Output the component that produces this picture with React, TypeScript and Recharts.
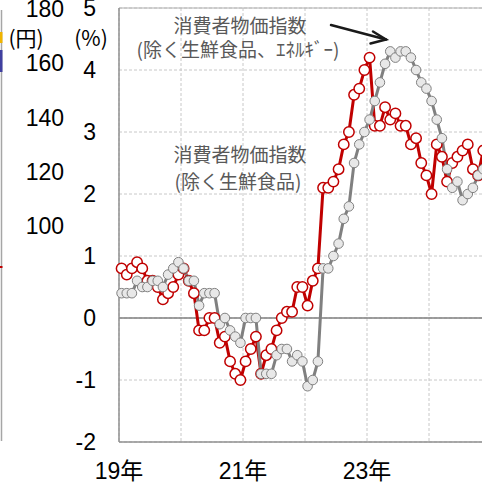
import { CartesianGrid, Line, LineChart, ReferenceLine, XAxis, YAxis } from "recharts";

// Monthly, Jan 2019 – Nov 2024, y/y % change
const months = [
  "19/01", "19/02", "19/03", "19/04", "19/05", "19/06", "19/07", "19/08", "19/09", "19/10", "19/11", "19/12",
  "20/01", "20/02", "20/03", "20/04", "20/05", "20/06", "20/07", "20/08", "20/09", "20/10", "20/11", "20/12",
  "21/01", "21/02", "21/03", "21/04", "21/05", "21/06", "21/07", "21/08", "21/09", "21/10", "21/11", "21/12",
  "22/01", "22/02", "22/03", "22/04", "22/05", "22/06", "22/07", "22/08", "22/09", "22/10", "22/11", "22/12",
  "23/01", "23/02", "23/03", "23/04", "23/05", "23/06", "23/07", "23/08", "23/09", "23/10", "23/11", "23/12",
  "24/01", "24/02", "24/03", "24/04", "24/05", "24/06", "24/07", "24/08", "24/09", "24/10", "24/11",
];

// 消費者物価指数（除く生鮮食品）
const exFresh = [
  0.8, 0.7, 0.8, 0.9, 0.8, 0.6, 0.6, 0.5, 0.3, 0.4, 0.5, 0.7,
  0.8, 0.6, 0.4, -0.2, -0.2, 0.0, 0.0, -0.4, -0.3, -0.7, -0.9, -1.0,
  -0.7, -0.5, -0.3, -0.9, -0.6, -0.5, -0.2, 0.0, 0.1, 0.1, 0.5, 0.5,
  0.2, 0.6, 0.8, 2.1, 2.1, 2.2, 2.4, 2.8, 3.0, 3.6, 3.7, 4.0,
  4.2, 3.1, 3.1, 3.4, 3.2, 3.3, 3.1, 3.1, 2.8, 2.9, 2.5, 2.3,
  2.0, 2.8, 2.6, 2.2, 2.5, 2.6, 2.7, 2.8, 2.4, 2.3, 2.7,
];

// 消費者物価指数（除く生鮮食品、エネルギー）
const exFreshEnergy = [
  0.4, 0.4, 0.4, 0.6, 0.5, 0.5, 0.6, 0.6, 0.5, 0.7, 0.8, 0.9,
  0.8, 0.6, 0.6, 0.2, 0.4, 0.4, 0.4, -0.1, 0.0, -0.2, -0.3, -0.4,
  0.0, 0.0, 0.0, -0.9, -0.9, -0.9, -0.6, -0.5, -0.5, -0.7, -0.6, -0.7,
  -1.1, -1.0, -0.7, 0.8, 0.8, 1.0, 1.2, 1.6, 1.8, 2.5, 2.8, 3.0,
  3.2, 3.5, 3.8, 4.1, 4.3, 4.2, 4.3, 4.3, 4.2, 4.0, 3.8, 3.7,
  3.5, 3.2, 2.9, 2.4, 2.1, 2.2, 1.9, 2.0, 2.1, 2.3, 2.4,
];

const yearLabels = ["19年", "", "21年", "", "23年", "", "", ""];
const pctTicks = [-2, -1, 0, 1, 2, 3, 4, 5];
// left-hand axis of the neighbouring (cropped) chart
const yenTicks = [100, 120, 140, 160, 180];
const yenDomain = [20, 180];

// x = month index, plotted at mid-month
const data = months.map((m, i) => ({
  month: m,
  x: i + 0.5,
  exFresh: exFresh[i],
  exFreshEnergy: exFreshEnergy[i],
}));

const yearTicks = yearLabels.map((_, i) => i * 12);

const PLOT_TOP = 8;
const PLOT_H = 434;
const yenY = (v: number) =>
  PLOT_TOP + ((yenDomain[1] - v) / (yenDomain[1] - yenDomain[0])) * PLOT_H;

const latin = "'Liberation Sans', Arial, sans-serif";
const jpFont = "'Noto Sans CJK JP', sans-serif";
const tickFont = { fontFamily: latin, fontSize: 23, fill: "#000" };

export default function App() {
  return (
    <div
      style={{
        position: "absolute",
        left: 0,
        top: 0,
        width: 482,
        height: 484,
        overflow: "hidden",
        background: "#fff",
      }}
    >
      <LineChart width={553} height={484} data={data} margin={{ top: PLOT_TOP, right: 0, bottom: 0, left: 0 }}>
        <CartesianGrid xAxisId="x" yAxisId="pct" stroke="#c8c8c8" strokeDasharray="3 2" />
        <XAxis
          xAxisId="x"
          type="number"
          dataKey="x"
          domain={[0, 84]}
          ticks={yearTicks}
          tickFormatter={(v: number) => yearLabels[Math.round(v / 12)] ?? ""}
          interval={0}
          height={42}
          tickLine={false}
          tickSize={0}
          tickMargin={21}
          axisLine={{ stroke: "#909090", strokeWidth: 1.5 }}
          tick={{ ...tickFont, fontFamily: `'Liberation Sans', ${jpFont}` }}
        />
        <YAxis
          yAxisId="pct"
          type="number"
          domain={[-2, 5]}
          ticks={pctTicks}
          interval={0}
          width={119}
          tickLine={false}
          tickSize={0}
          tickMargin={23}
          axisLine={{ stroke: "#909090", strokeWidth: 1.5 }}
          tick={tickFont}
        />
        <ReferenceLine xAxisId="x" yAxisId="pct" y={5} stroke="#b0b0b0" strokeWidth={1.2} />
        <ReferenceLine xAxisId="x" yAxisId="pct" y={0} stroke="#808080" strokeWidth={1.5} />
        <Line
          xAxisId="x"
          yAxisId="pct"
          type="linear"
          dataKey="exFresh"
          stroke="#c00000"
          strokeWidth={3}
          dot={{ r: 5.2, fill: "#fff", stroke: "#c00000", strokeWidth: 1.5 }}
          isAnimationActive={false}
        />
        <Line
          xAxisId="x"
          yAxisId="pct"
          type="linear"
          dataKey="exFreshEnergy"
          stroke="#808080"
          strokeWidth={3}
          dot={{ r: 4.8, fill: "#e8e8e8", stroke: "#808080", strokeWidth: 1 }}
          isAnimationActive={false}
        />
      </LineChart>

      <svg
        width={482}
        height={484}
        style={{ position: "absolute", left: 0, top: 0, pointerEvents: "none" }}
      >
        {/* edge of the neighbouring chart */}
        <line x1={1.5} y1={10} x2={1.5} y2={441} stroke="#a6a6a6" strokeWidth={1.5} />
        <rect x={0} y={32} width={2.5} height={11} fill="#f0b400" />
        <rect x={0} y={50} width={2.5} height={22} fill="#4040a0" />
        <rect x={0} y={266} width={2.5} height={2} fill="#c00000" />

        <g fontFamily={latin} fontSize={23} fill="#000" textAnchor="end" dominantBaseline="central">
          {yenTicks.map((v) => (
            <text key={v} x={64} y={yenY(v) + 1}>
              {v}
            </text>
          ))}
        </g>

        <g fontFamily={jpFont} fontSize={21} fill="#000" textAnchor="middle" dominantBaseline="central">
          <text x={26} y={37}>(円)</text>
          <text x={91} y={37}>(%)</text>
        </g>

        <g fontFamily={jpFont} fontSize={19} fill="#595959" textAnchor="middle" dominantBaseline="central">
          <text x={240} y={24}>消費者物価指数</text>
          <text x={238} y={48}>(除く生鮮食品、ｴﾈﾙｷﾞｰ)</text>
          <text x={240} y={153}>消費者物価指数</text>
          <text x={238} y={180}>(除く生鮮食品)</text>
        </g>

        <g stroke="#1a1a1a" strokeWidth={2.5} fill="none" strokeLinecap="round">
          <line x1={331} y1={25} x2={386} y2={39.5} />
          <polyline points="373,31.5 386,39.5 370.5,43.5" />
        </g>
      </svg>
    </div>
  );
}
